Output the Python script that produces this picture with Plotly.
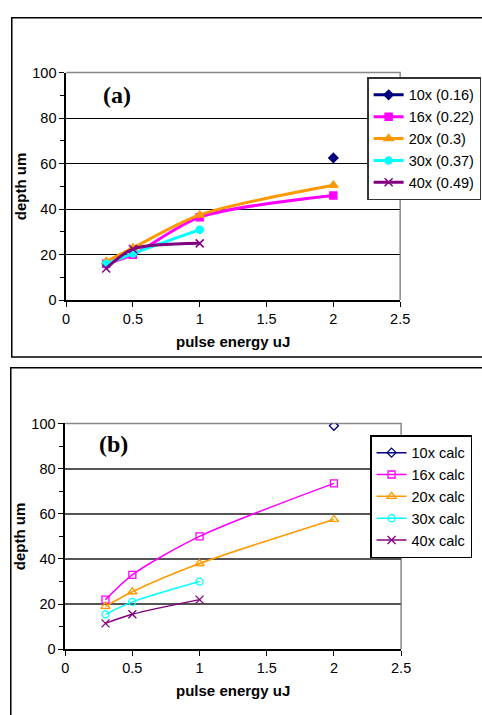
import plotly.graph_objects as go

W, H = 482, 715

# ---- data panel (a) ----
a_names = ["10x (0.16)", "16x (0.22)", "20x (0.3)", "30x (0.37)", "40x (0.49)"]
a_x = [[2], [0.3, 0.5, 1, 2], [0.3, 0.5, 1, 2], [0.3, 0.5, 1], [0.3, 0.5, 1]]
a_y = [[62.5], [16, 20, 36.5, 46], [17, 23, 37.5, 50.5], [16, 20.5, 31], [14, 22.5, 25]]

# ---- data panel (b) ----
b_names = ["10x calc", "16x calc", "20x calc", "30x calc", "40x calc"]
b_x = [[2], [0.3, 0.5, 1, 2], [0.3, 0.5, 1, 2], [0.3, 0.5, 1], [0.3, 0.5, 1]]
b_y = [[99], [22, 33, 50, 73.5], [19, 25.5, 38, 57.5], [15.5, 21, 30], [11.5, 15.5, 22]]

colors = ["#000080", "#FF00FF", "#FF9900", "#00FFFF", "#800080"]
a_symbols = ["diamond", "square", "triangle-up", "circle", "x-thin"]
b_symbols = ["diamond-open", "square-open", "triangle-up-open", "circle-open", "x-thin"]
a_sizes = [7, 7, 8, 7, 8]
b_sizes = [7, 7, 8, 7, 8]

x_ticks = [0, 0.5, 1, 1.5, 2, 2.5]
y_ticks = [0, 20, 40, 60, 80, 100]

fig = go.Figure()

for i in range(5):
    fig.add_trace(go.Scatter(
        x=a_x[i], y=a_y[i], name=a_names[i], mode="lines+markers",
        line=dict(color=colors[i], width=3, shape="spline", smoothing=0.8),
        marker=dict(symbol=a_symbols[i], size=a_sizes[i], color=colors[i],
                    line=dict(color=colors[i], width=1.5)),
        xaxis="x", yaxis="y", legend="legend"))

for i in range(5):
    fig.add_trace(go.Scatter(
        x=b_x[i], y=b_y[i], name=b_names[i], mode="lines+markers",
        line=dict(color=colors[i], width=1.5, shape="spline", smoothing=0.8),
        marker=dict(symbol=b_symbols[i], size=b_sizes[i], color=colors[i],
                    line=dict(color=colors[i], width=1.3)),
        xaxis="x2", yaxis="y2", legend="legend2"))

def px(v):
    return v / W

def py(v):
    return 1 - v / H

font_tick = dict(family="Liberation Sans, Arial", size=14.5, color="black")
font_title = dict(family="Liberation Sans, Arial", size=15, color="black", weight="bold")

xa = dict(range=[0, 2.5], tickvals=x_ticks, ticks="outside", ticklen=5, tickcolor="black",
          showline=True, linecolor="black", linewidth=1.5, showgrid=False, zeroline=False,
          tickfont=font_tick, fixedrange=True)
ya = dict(range=[0, 100], tickvals=y_ticks, ticks="outside", ticklen=5, tickcolor="black",
          showline=True, linecolor="black", linewidth=1.5, showgrid=True, zeroline=False,
          tickfont=font_tick, fixedrange=True,
          minor=dict(ticks="outside", ticklen=4, dtick=10, tickcolor="black", showgrid=False))

fig.update_layout(
    width=W, height=H, margin=dict(l=0, r=0, t=0, b=0),
    paper_bgcolor="white", plot_bgcolor="white", showlegend=True,
    xaxis=dict(xa, domain=[px(64), px(408)], anchor="y",
               title=dict(text="pulse energy uJ", font=font_title, standoff=10)),
    yaxis=dict(ya, domain=[py(299), py(66)], anchor="x", gridcolor="black", gridwidth=1,
               title=dict(text="depth um", font=font_title, standoff=2)),
    xaxis2=dict(xa, domain=[px(63), px(409)], anchor="y2",
                title=dict(text="pulse energy uJ", font=font_title, standoff=10)),
    yaxis2=dict(ya, domain=[py(656), py(425)], anchor="x2", gridcolor="#555555", gridwidth=1.5,
                title=dict(text="depth um", font=font_title, standoff=2)),
    legend=dict(x=px(374), y=py(71), xanchor="left", yanchor="top",
                bordercolor="#333333", borderwidth=1.5, bgcolor="white",
                font=dict(family="Liberation Sans, Arial", size=14.5, color="black"),
                tracegroupgap=0, itemwidth=30),
    legend2=dict(x=px(377), y=py(437), xanchor="left", yanchor="top",
                 bordercolor="black", borderwidth=1.5, bgcolor="white",
                 font=dict(family="Liberation Sans, Arial", size=14.5, color="black"),
                 tracegroupgap=0, itemwidth=30),
    annotations=[
        dict(text="<b>(a)</b>", xref="paper", yref="paper", x=px(100), y=py(89),
             xanchor="left", yanchor="middle", showarrow=False,
             font=dict(family="Liberation Serif, Times New Roman", size=24, color="black")),
        dict(text="<b>(b)</b>", xref="paper", yref="paper", x=px(96), y=py(446),
             xanchor="left", yanchor="middle", showarrow=False,
             font=dict(family="Liberation Serif, Times New Roman", size=24, color="black")),
    ],
    shapes=[
        dict(type="rect", xref="paper", yref="paper", x0=px(8), x1=1.05, y0=py(357), y1=py(10),
             line=dict(color="black", width=1.5), layer="below"),
        dict(type="rect", xref="paper", yref="paper", x0=px(7), x1=1.05, y0=-0.05, y1=py(368),
             line=dict(color="black", width=1.5), layer="below"),
        dict(type="path", xref="x domain", yref="y domain", path="M 0 1 L 1 1 L 1 0",
             line=dict(color="#888888", width=1.5), layer="below"),
        dict(type="path", xref="x2 domain", yref="y2 domain", path="M 0 1 L 1 1 L 1 0",
             line=dict(color="#888888", width=1.5), layer="below"),
    ],
)

fig.write_html("out.html")
